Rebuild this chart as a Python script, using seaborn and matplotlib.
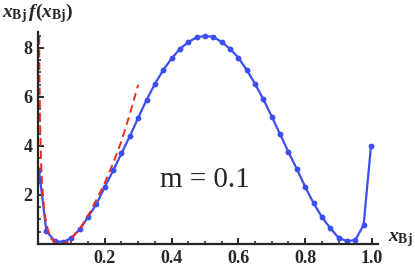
import matplotlib
matplotlib.use("Agg")
import matplotlib.pyplot as plt
import seaborn as sns
import pandas as pd
from matplotlib import font_manager
from matplotlib.ticker import MultipleLocator, FixedLocator

# ---- data ----
x_bj = [0.003, 0.025, 0.05, 0.075, 0.1, 0.125, 0.15, 0.175, 0.2, 0.225,
        0.25, 0.275, 0.3, 0.325, 0.35, 0.375, 0.4, 0.425, 0.45, 0.475,
        0.5, 0.525, 0.55, 0.575, 0.6, 0.625, 0.65, 0.675, 0.7, 0.725,
        0.75, 0.775, 0.8, 0.825, 0.85, 0.875, 0.9, 0.925, 0.95, 0.975, 0.997]
xf_bj = [3.0, 0.53, 0.12, 0.08, 0.25, 0.6, 1.1, 1.63, 2.33, 3.0,
         3.7, 4.4, 5.15, 5.88, 6.53, 7.1, 7.57, 7.96, 8.24, 8.43,
         8.49, 8.45, 8.24, 7.96, 7.6, 7.1, 6.53, 5.9, 5.2, 4.47,
         3.75, 3.06, 2.33, 1.67, 1.1, 0.65, 0.25, 0.12, 0.16, 0.78, 4.0]

# small-x approximation (red dashed)
x_small = [0.0015, 0.004, 0.006, 0.01, 0.015, 0.02, 0.03, 0.04, 0.05, 0.06,
           0.07, 0.08, 0.09, 0.1, 0.125, 0.15, 0.175, 0.2, 0.225, 0.25,
           0.275, 0.3]
xf_small = [12.0, 7.5, 5.0, 3.0, 1.9, 1.2, 0.55, 0.22, 0.07, 0.01,
            0.0, 0.02, 0.1, 0.22, 0.62, 1.15, 1.8, 2.5, 3.3, 4.2,
            5.3, 6.5]

x_ticks = [0.2, 0.4, 0.6, 0.8, 1.0]
x_ticklabels = ["0.2", "0.4", "0.6", "0.8", "1.0"]
y_ticks = [2, 4, 6, 8]
y_ticklabels = ["2", "4", "6", "8"]

blue = "#3b4ef2"
red = "#f22a1e"

sns.set_style("ticks")
plt.rcParams["font.family"] = "serif"
plt.rcParams["font.serif"] = ["Liberation Serif", "DejaVu Serif"]
plt.rcParams["mathtext.fontset"] = "custom"
plt.rcParams["mathtext.rm"] = "Liberation Serif:bold"
plt.rcParams["mathtext.bf"] = "Liberation Serif:bold"
plt.rcParams["mathtext.it"] = "Liberation Serif:bold:italic"

serif_bold = font_manager.FontProperties(family="Liberation Serif",
                                         weight="bold", size=13)

df_full = pd.DataFrame({"x": x_bj, "y": xf_bj})
df_small = pd.DataFrame({"x": x_small, "y": xf_small})

fig = plt.figure(figsize=(4.15, 2.68), dpi=100)
ax = fig.add_axes([38 / 415, 24 / 268, 340 / 415, 212 / 268])

sns.lineplot(data=df_full, x="x", y="y", ax=ax, color=blue, lw=1.6,
             marker="o", markersize=4.2, markeredgewidth=0, sort=False)
sns.lineplot(data=df_small, x="x", y="y", ax=ax, color=red, lw=1.4,
             sort=False, dashes=False, linestyle=(0, (4, 2.5)))

ax.set_xlim(0, 1.018)
ax.set_ylim(0, 8.65)
ax.set_xlabel("")
ax.set_ylabel("")

sns.despine(ax=ax)
for s in ["left", "bottom"]:
    ax.spines[s].set_linewidth(1.6)

ax.xaxis.set_major_locator(FixedLocator(x_ticks))
ax.set_xticklabels(x_ticklabels, fontproperties=serif_bold)
ax.yaxis.set_major_locator(FixedLocator(y_ticks))
ax.set_yticklabels(y_ticklabels, fontproperties=serif_bold)
ax.xaxis.set_minor_locator(MultipleLocator(0.05))
ax.yaxis.set_minor_locator(MultipleLocator(0.5))
ax.tick_params(which="major", direction="in", length=4, width=1.4, pad=4)
ax.tick_params(which="minor", direction="in", length=2.2, width=1.1)

ax.text(0.491, 0.269, "m = 0.1", transform=ax.transAxes, fontsize=21,
        family="Liberation Serif", ha="center", va="baseline")
fig.text(0.005, 0.951, r"$x_{\mathrm{Bj}}\,f(x_{\mathrm{Bj}})$",
         fontsize=14, ha="left", va="center")
fig.text(0.935, 0.105, r"$x_{\mathrm{Bj}}$", fontsize=14,
         ha="left", va="center")

fig.savefig("out.png", dpi=100)
